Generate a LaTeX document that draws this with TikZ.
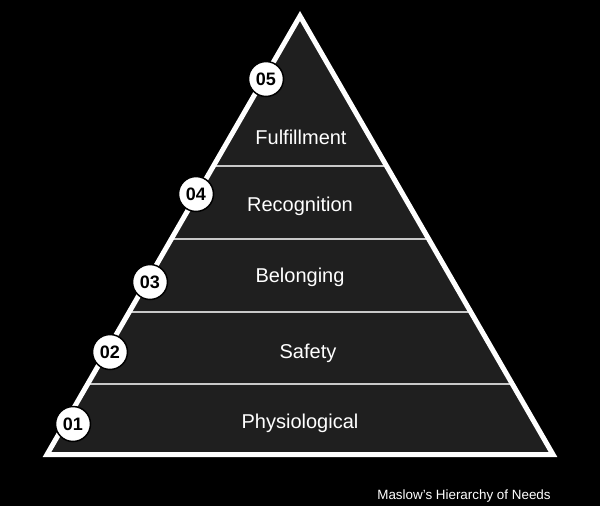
\documentclass[tikz,border=0pt]{standalone}
\usepackage{fontspec}
\setmainfont{Liberation Sans}
\definecolor{layerfill}{HTML}{1F1F1F}
\definecolor{divider}{HTML}{C8C8C8}
\begin{document}
\begin{tikzpicture}[x=1pt,y=-1pt,
  levellabel/.style={text=white,font=\fontsize{20}{24}\selectfont,anchor=base,inner sep=0pt},
  numcircle/.style={circle,fill=white,draw=black,line width=1.5pt,minimum size=35pt,inner sep=0pt,
    font=\fontsize{18}{20}\selectfont\bfseries,text=black},
  caption/.style={text=white,font=\fontsize{13.4}{16}\selectfont,anchor=base,inner sep=0pt}]
\fill[black] (0,0) rectangle (600,506);
\useasboundingbox (0,0) rectangle (600,506);
% pyramid
\coordinate (apex) at (300,16);
\coordinate (bl) at (47,454.5);
\coordinate (br) at (553,454.5);
\fill[layerfill] (apex) -- (bl) -- (br) -- cycle;
\begin{scope}
  \clip (apex) -- (bl) -- (br) -- cycle;
  \foreach \yy in {166,239,312,384}
    \draw[divider,line width=1.5pt] (0,\yy) -- (600,\yy);
\end{scope}
\draw[white,line width=5pt,line join=miter] (apex) -- (bl) -- (br) -- cycle;
% labels
\node[levellabel] (l5) at (301,144) {Fulfillment};
\node[levellabel] (l4) at (300,211) {Recognition};
\node[levellabel] (l3) at (300,282) {Belonging};
\node[levellabel] (l2) at (308,358) {Safety};
\node[levellabel] (l1) at (300,428) {Physiological};
% numbers
\node[numcircle] (n5) at (266,79) {05};
\node[numcircle] (n4) at (196,194) {04};
\node[numcircle] (n3) at (150,282) {03};
\node[numcircle] (n2) at (110,352) {02};
\node[numcircle] (n1) at (73,424) {01};
% caption
\node[caption] (cap) at (464,499) {Maslow’s Hierarchy of Needs};
\end{tikzpicture}
\end{document}
